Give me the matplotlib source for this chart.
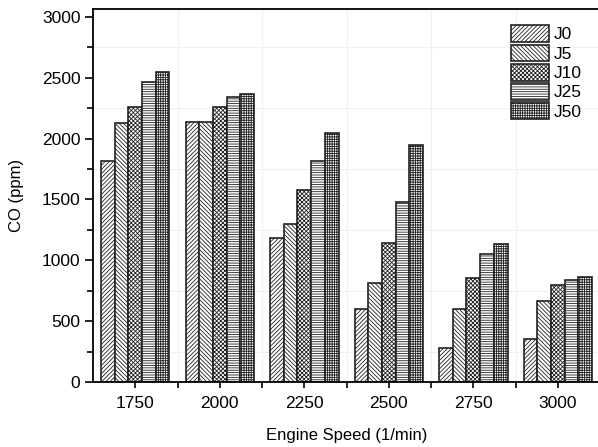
import matplotlib.pyplot as plt
import numpy as np
from matplotlib.ticker import MultipleLocator, FixedLocator

speeds = ['1750', '2000', '2250', '2500', '2750', '3000']
fuels = ['J0', 'J5', 'J10', 'J25', 'J50']
co_j0 = [1815, 2135, 1180, 600, 280, 355]
co_j5 = [2130, 2135, 1295, 815, 600, 668]
co_j10 = [2260, 2260, 1575, 1145, 857, 800]
co_j25 = [2465, 2340, 1813, 1476, 1055, 840]
co_j50 = [2550, 2365, 2045, 1950, 1138, 866]
series = [co_j0, co_j5, co_j10, co_j25, co_j50]
hatches = ['////////', '\\\\\\\\\\\\\\\\', 'xxxxxxxx', '-------', '+++++++']

plt.rcParams['font.family'] = 'Liberation Sans'
plt.rcParams['hatch.linewidth'] = 0.6
plt.rcParams['hatch.color'] = '#333333'

fig = plt.figure(figsize=(5.98, 4.47), dpi=100)
ax = fig.add_axes([0.1555, 0.1454, 0.848, 0.8346])

x = np.arange(len(speeds))
w = 0.162
for i, (name, vals) in enumerate(zip(fuels, series)):
    ax.bar(x + (i - 2) * w, vals, w, facecolor='white', edgecolor='#222222',
           hatch=hatches[i], linewidth=1.2, label=name, zorder=2)

ax.set_xlim(-0.5, 5.5)
ax.set_ylim(0, 3066)
ax.set_xticks(x)
ax.set_xticklabels(speeds)
ax.xaxis.set_minor_locator(FixedLocator(x[:-1] + 0.5))
ax.yaxis.set_major_locator(FixedLocator([0, 500, 1000, 1500, 2000, 2500, 3000]))
ax.yaxis.set_minor_locator(MultipleLocator(250))
ax.grid(True, which='minor', color='#f0f0f0', linewidth=0.8, zorder=0)
ax.tick_params(axis='both', which='major', labelsize=12.5, direction='out',
               length=6, width=1.2, pad=3)
ax.tick_params(axis='both', which='minor', direction='out', length=4, width=1.2)
ax.tick_params(axis='x', which='major', direction='inout', length=8, pad=6)
for s in ax.spines.values():
    s.set_linewidth(1.3)

ax.set_xlabel('Engine Speed (1/min)', fontsize=12, labelpad=12)
ax.set_ylabel('CO (ppm)', fontsize=12, labelpad=13)

leg = ax.legend(loc='upper left', bbox_to_anchor=(0.81, 0.975), fontsize=12.5,
                frameon=False, handlelength=2.2, handleheight=1.1,
                labelspacing=0.12, handletextpad=0.3, borderaxespad=0)

fig.savefig('out.png', dpi=100)
